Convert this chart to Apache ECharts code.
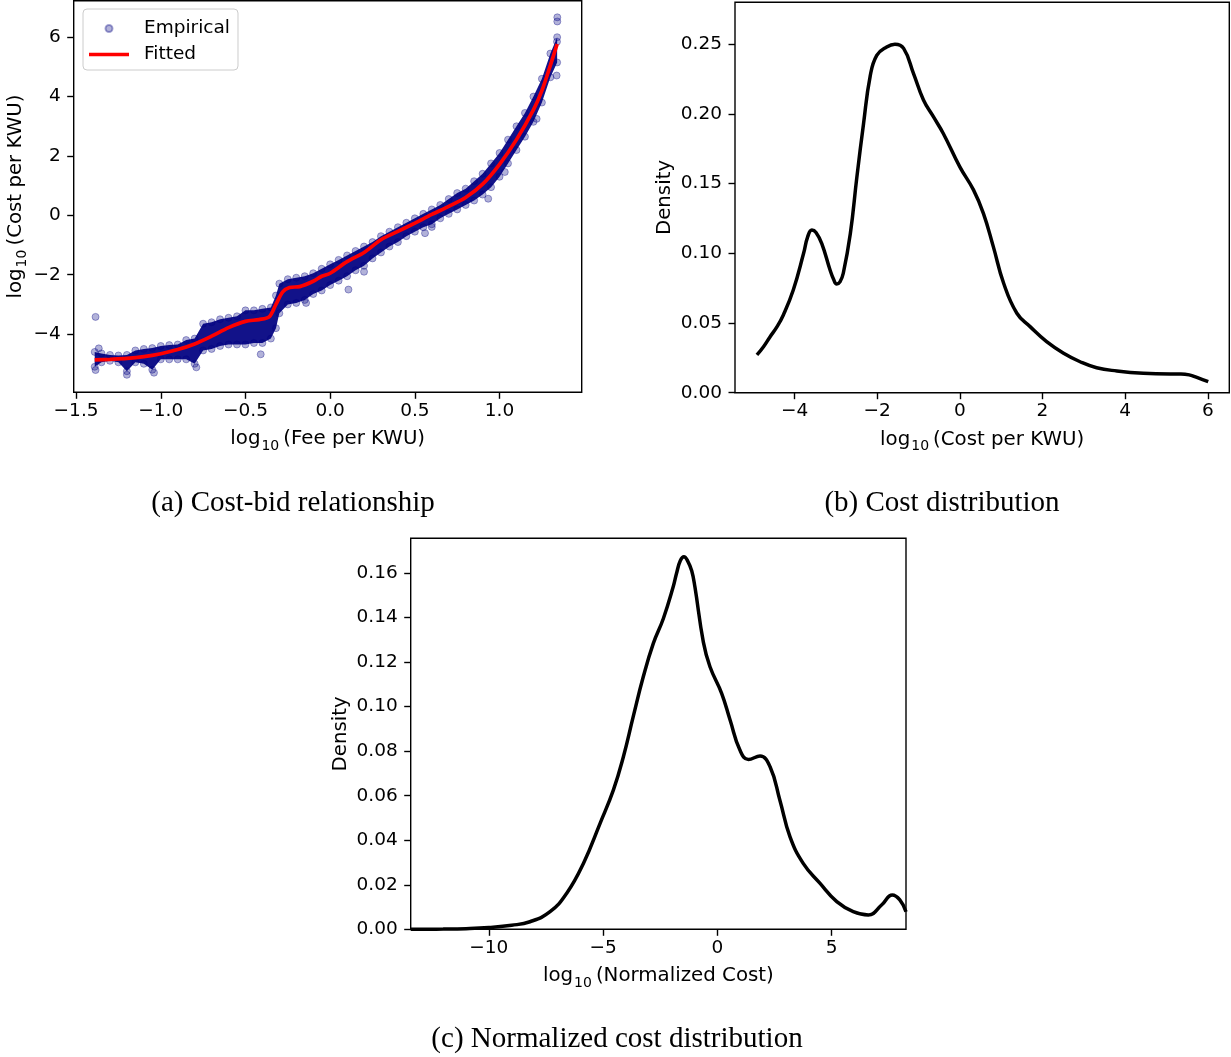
<!DOCTYPE html>
<html>
<head>
<meta charset="utf-8">
<script src="https://cdn.jsdelivr.net/npm/echarts@6/dist/echarts.min.js"></script>
<style>
html,body{margin:0;padding:0;background:#fff;}
#c{width:1231px;height:1057px;}
</style>
</head>
<body>
<div id="c"></div>
<script>
// ---------- Panel (a): cost-bid relationship ----------
// fitted curve
const fitX = [-1.39,-1.3,-1.2,-1.1,-1.0,-0.9,-0.8,-0.7,-0.6,-0.5,-0.42,-0.36,-0.32,-0.28,-0.24,-0.18,-0.1,-0.05,0.0,0.1,0.2,0.3,0.4,0.5,0.6,0.7,0.8,0.9,1.0,1.1,1.2,1.25,1.3,1.34];
const fitY = [-4.87,-4.85,-4.82,-4.76,-4.66,-4.52,-4.33,-4.07,-3.78,-3.57,-3.51,-3.42,-3.0,-2.58,-2.43,-2.40,-2.22,-2.05,-1.95,-1.56,-1.25,-0.82,-0.54,-0.26,0.03,0.30,0.60,1.05,1.72,2.55,3.55,4.2,5.05,5.77];
// empirical band: x positions with lowest / highest point centres
const bandX    = [-1.39,-1.35,-1.30,-1.25,-1.20,-1.15,-1.10,-1.05,-1.00,-0.95,-0.90,-0.85,-0.80,-0.75,-0.70,-0.65,-0.60,-0.55,-0.50,-0.45,-0.40,-0.35,-0.32,-0.30,-0.25,-0.20,-0.15,-0.10,-0.05,0.00,0.05,0.10,0.15,0.20,0.25,0.30,0.35,0.40,0.45,0.50,0.55,0.60,0.65,0.70,0.75,0.80,0.85,0.90,0.95,1.00,1.05,1.10,1.15,1.20,1.25,1.30,1.34];
const bandLow  = [-5.1,-4.95,-4.9,-4.95,-5.25,-4.95,-5.0,-5.2,-4.85,-4.85,-4.85,-4.85,-5.0,-4.55,-4.5,-4.4,-4.35,-4.35,-4.35,-4.3,-4.3,-4.15,-3.8,-3.3,-3.0,-2.95,-2.85,-2.65,-2.53,-2.35,-2.2,-2.05,-1.85,-1.7,-1.45,-1.25,-1.05,-0.9,-0.7,-0.55,-0.4,-0.3,-0.1,0.05,0.2,0.35,0.5,0.7,0.95,1.3,1.75,2.2,2.65,3.15,3.8,4.65,5.15];
const bandHigh = [-4.6,-4.65,-4.7,-4.72,-4.7,-4.55,-4.5,-4.47,-4.4,-4.37,-4.35,-4.2,-4.15,-3.65,-3.6,-3.5,-3.45,-3.4,-3.2,-3.2,-3.15,-3.1,-2.7,-2.3,-2.15,-2.1,-2.05,-1.95,-1.8,-1.65,-1.5,-1.35,-1.2,-1.05,-0.9,-0.7,-0.55,-0.4,-0.25,-0.1,0.05,0.2,0.35,0.55,0.75,0.9,1.15,1.4,1.75,2.1,2.55,3.0,3.45,4.0,4.6,5.45,6.0];
// isolated empirical points
const outX = [-1.385,-1.385,-1.366,-1.20,-1.04,-0.79,-0.41,-0.142,0.108,0.20,0.56,0.60,0.933,1.031,1.219,1.341,1.341,1.337,1.339];
const outY = [-3.42,-5.21,-4.48,-5.37,-5.30,-5.12,-4.68,-2.95,-2.50,-1.90,-0.60,-0.39,0.56,1.46,3.25,6.67,6.53,4.71,5.85];
const xTicksA = [-1.5,-1.0,-0.5,0.0,0.5,1.0];
const yTicksA = [-4,-2,0,2,4,6];

// ---------- Panel (b): cost distribution ----------
const bX = [-4.91,-4.75,-4.59,-4.43,-4.27,-4.03,-3.78,-3.68,-3.58,-3.48,-3.34,-3.14,-3.05,-2.98,-2.90,-2.82,-2.65,-2.49,-2.33,-2.17,-2.01,-1.77,-1.57,-1.36,-1.12,-0.88,-0.64,-0.40,0.0,0.33,0.57,0.81,1.06,1.38,1.70,2.10,2.51,2.91,3.31,3.80,4.44,5.09,5.35,5.55,5.75,6.01];
const bY = [0.0271,0.033,0.0402,0.047,0.0558,0.0737,0.100,0.112,0.1167,0.115,0.107,0.088,0.081,0.078,0.0795,0.0857,0.114,0.155,0.193,0.227,0.242,0.248,0.250,0.247,0.229,0.210,0.198,0.186,0.162,0.1455,0.1287,0.1048,0.0785,0.057,0.0474,0.0366,0.0283,0.0222,0.0179,0.0156,0.0139,0.0134,0.0135,0.0128,0.0108,0.0079];
const xTicksB = [-4,-2,0,2,4,6];
const yTicksB = [0,0.05,0.10,0.15,0.20,0.25];

// ---------- Panel (c): normalized cost distribution ----------
const cX = [-13.42,-12,-11,-10,-9,-8.2,-7.32,-6.59,-5.86,-5.13,-4.55,-4.11,-3.68,-3.24,-2.80,-2.36,-1.93,-1.78,-1.62,-1.46,-1.30,-1.12,-0.98,-0.61,-0.32,0.19,0.56,0.99,1.36,1.87,2.31,2.74,3.18,3.76,4.49,5.23,5.95,6.61,7.19,7.66,7.99,8.26];
const cY = [0.0000,0.0001,0.0003,0.0008,0.0018,0.0034,0.0079,0.0162,0.0296,0.0476,0.0625,0.0775,0.0955,0.1134,0.1284,0.1396,0.1538,0.160,0.1655,0.1673,0.1655,0.161,0.1538,0.1290,0.1179,0.106,0.094,0.0805,0.0763,0.0778,0.073,0.058,0.0416,0.0296,0.0207,0.0124,0.0079,0.0064,0.0109,0.0154,0.0132,0.0079];
const xTicksC = [-10,-5,0,5];
const yTicksC = [0,0.02,0.04,0.06,0.08,0.10,0.12,0.14,0.16];

const captions = ['(a) Cost-bid relationship','(b) Cost distribution','(c) Normalized cost distribution'];

// ---------- helpers ----------
const FONT = 'DejaVu Sans';
const FS = 18.5;   // tick labels, legend
const NFS = 19.8;  // axis names
const fmt = d => v => (v < 0 ? '\u2212' : '') + Math.abs(v).toFixed(d);
const rich = {
  a: {fontFamily: FONT, fontSize: NFS, color: '#000', lineHeight: 28, verticalAlign: 'middle'},
  s: {fontFamily: FONT, fontSize: 14, color: '#000', lineHeight: 17, verticalAlign: 'bottom', padding: [0, 4, 0, 1]}
};
function xAxis(gi, min, max, ticks, dec, name, gap) {
  return {
    type: 'value', gridIndex: gi, min: min, max: max,
    name: name, nameLocation: 'middle', nameGap: gap,
    nameTextStyle: {fontFamily: FONT, fontSize: NFS, color: '#000', rich: rich},
    axisLine: {show: false, onZero: false},
    axisTick: {show: true, inside: false, length: 6.5, lineStyle: {color: '#000', width: 1.4}, customValues: ticks},
    axisLabel: {show: true, margin: 9, fontFamily: FONT, fontSize: FS, color: '#000', formatter: fmt(dec), customValues: ticks},
    splitLine: {show: false}
  };
}
function yAxis(gi, min, max, ticks, dec, name, gap) {
  return {
    type: 'value', gridIndex: gi, min: min, max: max,
    name: name, nameLocation: 'middle', nameGap: gap, nameRotate: 90,
    nameTextStyle: {fontFamily: FONT, fontSize: NFS, color: '#000', rich: rich},
    axisLine: {show: false, onZero: false},
    axisTick: {show: true, inside: false, length: 6.5, lineStyle: {color: '#000', width: 1.4}, customValues: ticks},
    axisLabel: {show: true, margin: 13, fontFamily: FONT, fontSize: FS, color: '#000', formatter: fmt(dec), customValues: ticks},
    splitLine: {show: false}
  };
}
const gridStyle = {show: true, borderColor: '#000', borderWidth: 1.4, backgroundColor: 'transparent', containLabel: false};

const fitData = fitX.map((x, i) => [x, fitY[i]]);
const empData = [];
bandX.forEach((x, i) => { empData.push([x, bandLow[i]]); empData.push([x, bandHigh[i]]); });
outX.forEach((x, i) => empData.push([x, outY[i]]));
const bData = bX.map((x, i) => [x, bY[i]]);
const cData = cX.map((x, i) => [x, cY[i]]);

const chart = echarts.init(document.getElementById('c'), null, {renderer: 'canvas'});
chart.setOption({
  animation: false,
  backgroundColor: '#fff',
  grid: [
    Object.assign({left: 73.7, top: 0.7, width: 508, height: 391.6}, gridStyle),
    Object.assign({left: 735, top: 2.3, width: 494.3, height: 390.4}, gridStyle),
    Object.assign({left: 410.7, top: 538.3, width: 495.3, height: 391}, gridStyle)
  ],
  xAxis: [
    xAxis(0, -1.514, 1.485, xTicksA, 1, '{a|log}{s|10}{a|(Fee per KWU)}', 33),
    xAxis(1, -5.44, 6.52, xTicksB, 0, '{a|log}{s|10}{a|(Cost per KWU)}', 33),
    xAxis(2, -13.42, 8.26, xTicksC, 0, '{a|log}{s|10}{a|(Normalized Cost)}', 33)
  ],
  yAxis: [
    yAxis(0, -5.96, 7.23, yTicksA, 0, '{a|log}{s|10}{a|(Cost per KWU)}', 44),
    yAxis(1, 0, 0.2801, yTicksB, 2, '{a|Density}', 56),
    yAxis(2, 0, 0.1756, yTicksC, 2, '{a|Density}', 56)
  ],
  legend: {
    left: 83, top: 9, orient: 'vertical',
    data: [
      {name: 'Empirical', icon: 'circle'},
      {name: 'Fitted', icon: 'path://M0,0L40,0L40,3.7L0,3.7Z'}
    ],
    itemWidth: 40, itemHeight: 7, itemGap: 7,
    padding: [10, 8, 6, 6],
    backgroundColor: 'rgba(255,255,255,0.8)', borderColor: '#cccccc', borderWidth: 1, borderRadius: 4,
    textStyle: {fontFamily: FONT, fontSize: FS, color: '#000', padding: [0, 0, 0, 10]}
  },
  series: [
    {
      type: 'custom', xAxisIndex: 0, yAxisIndex: 0, silent: true, clip: true, z: 1,
      data: [[0, 0]],
      renderItem: function (params, api) {
        const pts = [];
        for (let i = 0; i < bandX.length; i++) pts.push(api.coord([bandX[i], bandHigh[i]]));
        for (let i = bandX.length - 1; i >= 0; i--) pts.push(api.coord([bandX[i], bandLow[i]]));
        return {type: 'polygon', shape: {points: pts}, style: {fill: '#000080', opacity: 0.93}};
      }
    },
    {
      name: 'Empirical', type: 'scatter', xAxisIndex: 0, yAxisIndex: 0, z: 2,
      symbol: 'circle', symbolSize: 7, data: empData,
      itemStyle: {color: 'rgba(0,0,128,0.3)', borderColor: 'rgba(0,0,128,0.35)', borderWidth: 1, opacity: 1}
    },
    {
      name: 'Fitted', type: 'line', xAxisIndex: 0, yAxisIndex: 0, z: 3,
      data: fitData, showSymbol: false, symbol: 'none', smooth: 0.3,
      lineStyle: {color: '#ff0000', width: 3.7}, itemStyle: {color: '#ff0000'}
    },
    {
      type: 'line', xAxisIndex: 1, yAxisIndex: 1, data: bData, showSymbol: false, symbol: 'none', smooth: 0.45,
      lineStyle: {color: '#000', width: 3.5}, itemStyle: {color: '#000'}
    },
    {
      type: 'line', xAxisIndex: 2, yAxisIndex: 2, data: cData, showSymbol: false, symbol: 'none', smooth: 0.45,
      lineStyle: {color: '#000', width: 3.5}, itemStyle: {color: '#000'}
    }
  ],
  graphic: [
    {type: 'text', x: 293, y: 503, style: {text: captions[0], font: '29px "Liberation Serif"', fill: '#000', textAlign: 'center', textVerticalAlign: 'middle'}},
    {type: 'text', x: 942, y: 503, style: {text: captions[1], font: '29px "Liberation Serif"', fill: '#000', textAlign: 'center', textVerticalAlign: 'middle'}},
    {type: 'text', x: 617, y: 1039, style: {text: captions[2], font: '29px "Liberation Serif"', fill: '#000', textAlign: 'center', textVerticalAlign: 'middle'}}
  ]
});
</script>
</body>
</html>
